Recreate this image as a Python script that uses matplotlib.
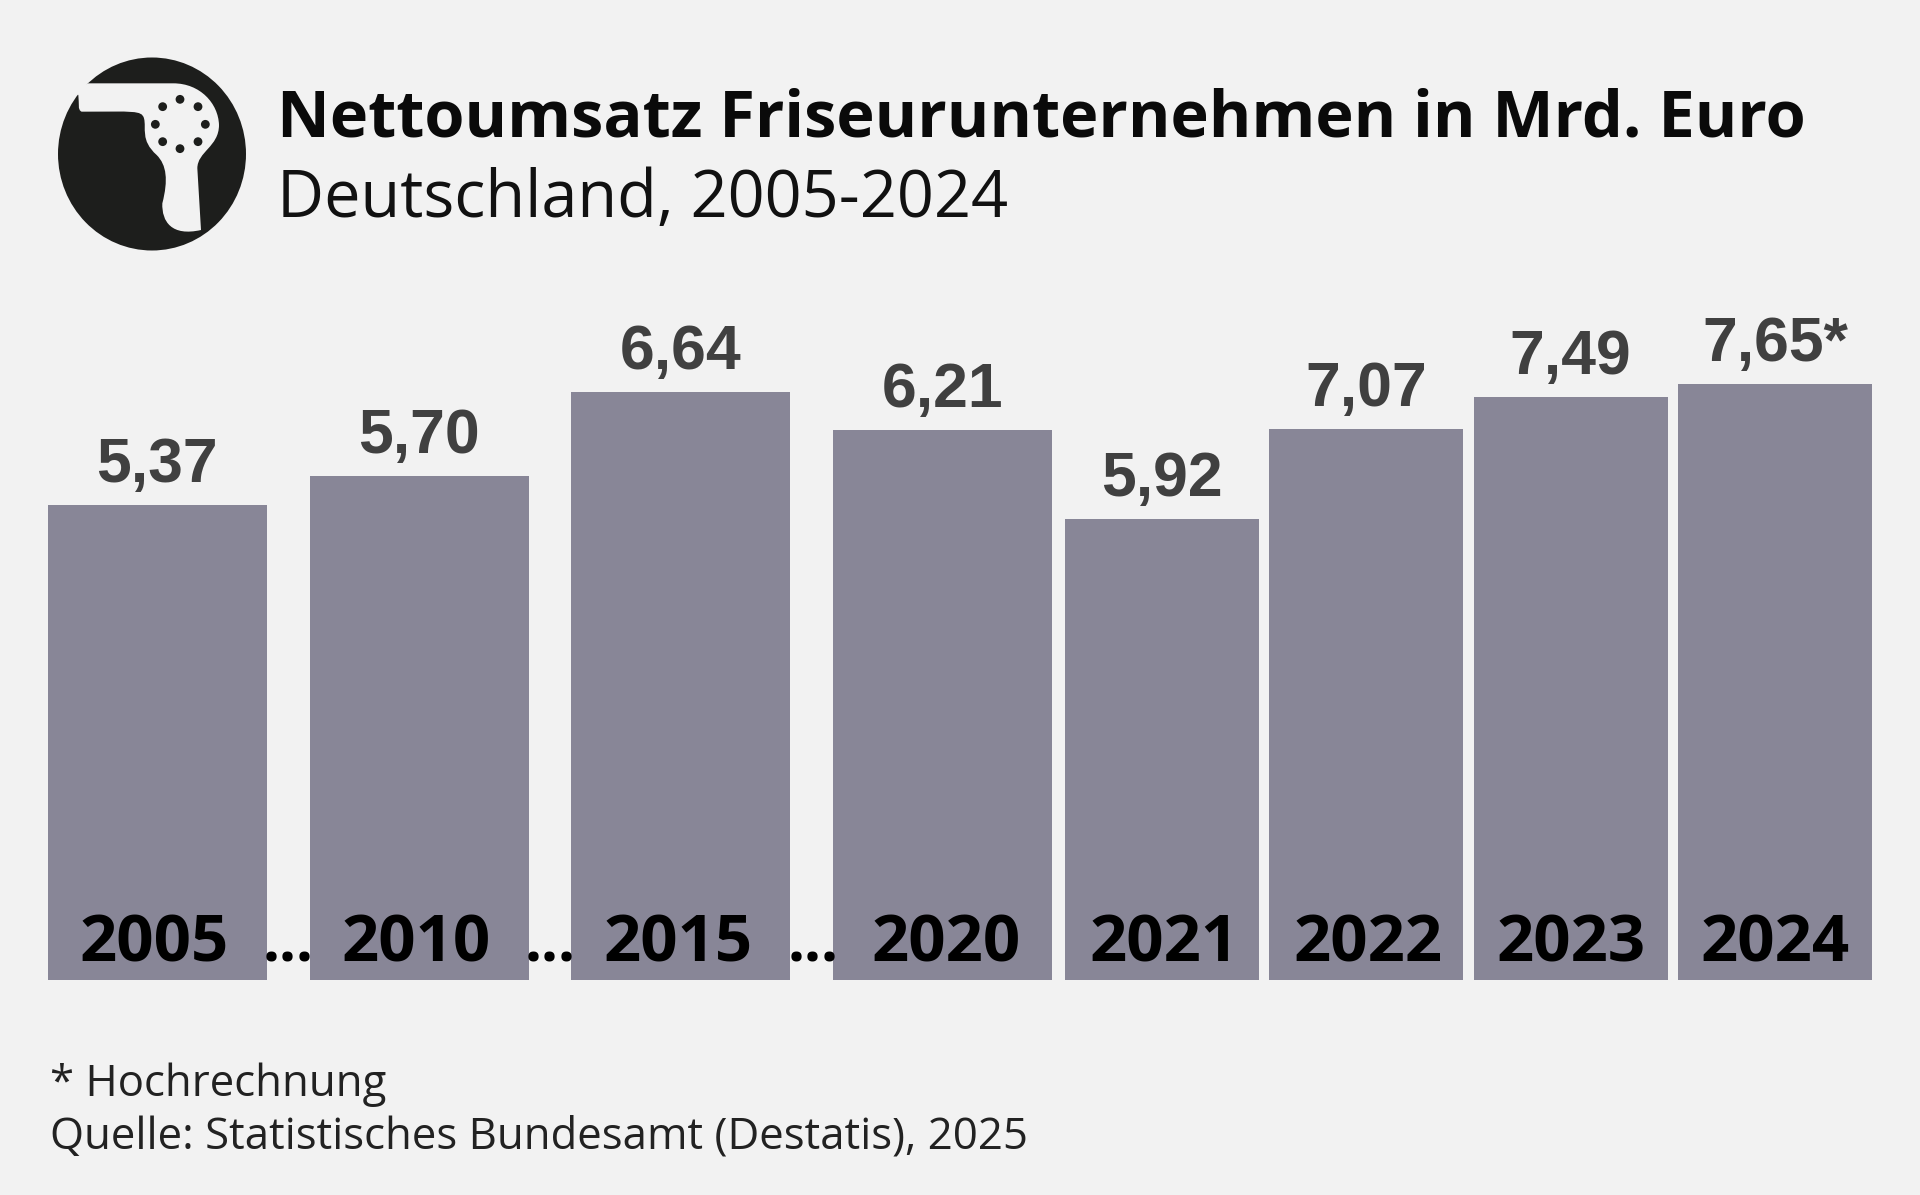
"""Nettoumsatz Friseurunternehmen, Balken links und rechts haben im Original verschiedene Massstaebe."""
import matplotlib.pyplot as plt
from matplotlib.patches import Circle, Ellipse, PathPatch
from matplotlib.path import Path

YEARS = ["2005", "2010", "2015", "2020", "2021", "2022", "2023", "2024"]
VALUES = [5.37, 5.70, 6.64, 6.21, 5.92, 7.07, 7.49, 7.65]
NOTES = ["", "", "", "", "", "", "", "*"]

W, H = 1920, 1195
BG = "#f2f2f2"
BAR = "#888697"
BASE_Y, TOP_Y = 980, 300
SPLIT = 4
PX_PER_UNIT = (88.5, 77.9)
YEAR_NUDGE = [-3, -3, -3, 4, 2, 2, 0, 0]

fig = plt.figure(figsize=(W / 100, H / 100), dpi=100, facecolor=BG)


def bar_panel(x0, x1, pitch, width, vals, px_per_unit, labels, years, nudges):
    ax = fig.add_axes([x0 / W, 1 - BASE_Y / H, (x1 - x0) / W, (BASE_Y - TOP_Y) / H])
    ax.patch.set_alpha(0)
    x = list(range(len(vals)))
    ax.bar(x, vals, width=width / pitch, color=BAR)
    ax.set_xlim(-width / pitch / 2, len(vals) - 1 + width / pitch / 2)
    ax.set_ylim(0, (BASE_Y - TOP_Y) / px_per_unit)
    ax.axis("off")
    for i, v in enumerate(vals):
        ax.annotate(labels[i], (i, v), xytext=(0, 23 * 0.72), textcoords="offset points",
                    ha="center", va="baseline", fontsize=45, fontweight="bold",
                    family="Liberation Sans", color="#404040", annotation_clip=False)
        ax.annotate(years[i], (i, 0), xytext=(nudges[i] * 0.72, 19 * 0.72), textcoords="offset points",
                    ha="center", va="baseline", fontsize=47, fontweight="bold",
                    family="Open Sans", color="#000000")
    return ax


labels = [f"{v:.2f}".replace(".", ",") + n for v, n in zip(VALUES, NOTES)]
bar_panel(48, 1052, 262, 219, VALUES[:SPLIT], PX_PER_UNIT[0], labels[:SPLIT], YEARS[:SPLIT], YEAR_NUDGE[:SPLIT])
bar_panel(1065, 1872, 204.4, 194, VALUES[SPLIT:], PX_PER_UNIT[1], labels[SPLIT:], YEARS[SPLIT:], YEAR_NUDGE[SPLIT:])

# Overlay in Pixelkoordinaten fuer Titel, Icon, Fussnote
ov = fig.add_axes([0, 0, 1, 1])
ov.set_xlim(0, W)
ov.set_ylim(H, 0)
ov.axis("off")
ov.patch.set_alpha(0)

ov.text(277, 136, "Nettoumsatz Friseurunternehmen in Mrd. Euro", fontsize=46.7, fontweight="bold",
        family="Open Sans", color="#0a0a0a", va="baseline")
ov.text(277, 217, "Deutschland, 2005-2024", fontsize=46.7, family="Open Sans", color="#111111", va="baseline")

for xd in (288, 550, 813):
    ov.text(xd, 961, "...", fontsize=43, fontweight="bold", family="Open Sans", color="#000000",
            ha="center", va="baseline")

ov.text(50, 1096, "* Hochrechnung", fontsize=31.5, family="Open Sans", color="#222222", va="baseline")
ov.text(50, 1149, "Quelle: Statistisches Bundesamt (Destatis), 2025", fontsize=31.5, family="Open Sans",
        color="#222222", va="baseline")


# Icon: Koordinaten aus dem Zoom-Ausschnitt (3x, Ursprung 40/40)
def zp(zx, zy):
    return (40 + zx / 3, 40 + zy / 3)


ICON = "#1d1e1c"
ov.add_patch(Ellipse(zp(336, 342), 188, 193, color=ICON, lw=0))
verts = [zp(145, 130), zp(400, 130),
         zp(480, 130), zp(535, 190), zp(537, 255),
         zp(537, 320), zp(472, 335), zp(472, 385),
         zp(483, 570),
         zp(395, 590), zp(365, 545), zp(367, 490),
         zp(385, 420), zp(380, 375), zp(350, 345),
         zp(300, 300), zp(320, 265), zp(312, 235),
         zp(305, 210), zp(280, 215), zp(125, 215),
         zp(112, 210), zp(118, 190), zp(115, 165),
         zp(100, 150), zp(145, 130)]
codes = [Path.MOVETO, Path.LINETO,
         Path.CURVE4, Path.CURVE4, Path.CURVE4,
         Path.CURVE4, Path.CURVE4, Path.CURVE4,
         Path.LINETO,
         Path.CURVE4, Path.CURVE4, Path.CURVE4,
         Path.CURVE4, Path.CURVE4, Path.CURVE4,
         Path.CURVE4, Path.CURVE4, Path.CURVE4,
         Path.CURVE4, Path.CURVE4, Path.CURVE4,
         Path.CURVE4, Path.CURVE4, Path.CURVE4,
         Path.LINETO, Path.LINETO]
ov.add_patch(PathPatch(Path(verts, codes), facecolor=BG, edgecolor="none"))
for zx, zy in [(420, 178), (474, 200), (496, 253), (474, 305), (420, 326), (368, 305), (346, 253), (368, 200)]:
    ov.add_patch(Circle(zp(zx, zy), 4.4, color=ICON, lw=0))

fig.savefig("out.png", dpi=100, facecolor=BG)
